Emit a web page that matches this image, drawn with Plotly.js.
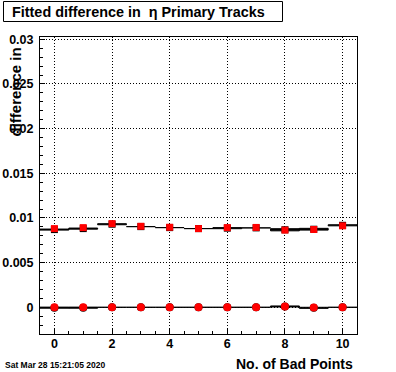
<!DOCTYPE html>
<html>
<head>
<meta charset="utf-8">
<script src="https://cdn.plot.ly/plotly-3.0.1.min.js"></script>
<style>
html,body{margin:0;padding:0;background:#fff;}
#plot{width:396px;height:372px;}
</style>
</head>
<body>
<div id="plot"></div>
<script>
// ---- data ----
const bins = [0, 1, 2, 3, 4, 5, 6, 7, 8, 9, 10];
// upper series (black histogram + its error, red overlay squares)
const upperBlack    = [0.00870, 0.00881, 0.00930, 0.00903, 0.00892, 0.00881, 0.00886, 0.00889, 0.00868, 0.00874, 0.00918];
const upperBlackErr = [0.00006, 0.00006, 0.00006, 0.0, 0.0, 0.0, 0.00006, 0.0, 0.00012, 0.00010, 0.00006];
const upperRed      = [0.00881, 0.00892, 0.00937, 0.00907, 0.00896, 0.00881, 0.00892, 0.00894, 0.00864, 0.00871, 0.00912];
// lower series (black histogram + its error, red overlay circles)
const lowerBlack    = [-0.00004, -0.00004, 0.0, 0.0, 0.0, 0.0, 0.0, 0.0, 0.00009, -0.00006, 0.0];
const lowerBlackErr = [0.00006, 0.00006, 0.0, 0.0, 0.0, 0.0, 0.0, 0.0, 0.00006, 0.00006, 0.0];
const lowerRed      = [0.0, 0.0, 0.0, 0.0, 0.0, 0.0, 0.0, 0.0, 0.00010, -0.00002, 0.0];

const titleText = 'Fitted difference in  \u03b7 Primary Tracks';
const yTitleText = 'difference in';
const xTitleText = 'No. of Bad Points';
const dateText = 'Sat Mar 28 15:21:05 2020';

// ---- geometry (pixels) ----
const W = 396, H = 372;
const mL = 40, mR = 39, mT = 37, mB = 38;
const pw = W - mL - mR, ph = H - mT - mB;
const px = x => (x - mL) / pw;
const py = y => (H - mB - y) / ph;

const FONT = 'Liberation Sans, Arial, Helvetica, sans-serif';

// build per-bin error boxes (closed polygons separated by nulls)
function boxes(vals, errs) {
  const xs = [], ys = [];
  vals.forEach((v, i) => {
    const e = errs[i];
    const a = bins[i] - 0.5, b = bins[i] + 0.5;
    xs.push(a, b, b, a, a, null);
    ys.push(v + e, v + e, v - e, v - e, v + e, null);
  });
  return {xs, ys};
}
const su = boxes(upperBlack, upperBlackErr);
const sl = boxes(lowerBlack, lowerBlackErr);

const traces = [
  {x: su.xs, y: su.ys, mode: 'lines', fill: 'toself', fillcolor: '#000', line: {color: '#000', width: 1}, connectgaps: false, hoverinfo: 'skip'},
  {x: sl.xs, y: sl.ys, mode: 'lines', fill: 'toself', fillcolor: '#000', line: {color: '#000', width: 1}, connectgaps: false, hoverinfo: 'skip'},
  {x: bins, y: upperBlack, mode: 'markers', marker: {symbol: 'square', size: 7, color: '#000'}},
  {x: bins, y: lowerBlack, mode: 'markers', marker: {symbol: 'circle', size: 8, color: '#000'}},
  {x: bins, y: upperRed, mode: 'markers', marker: {symbol: 'square', size: 7, color: '#ff0000'}},
  {x: bins, y: lowerRed, mode: 'markers', marker: {symbol: 'circle', size: 8, color: '#ff0000'}}
];

const tickFont = {family: FONT, size: 12.5, color: '#000', weight: 'bold'};

const layout = {
  width: W, height: H,
  margin: {l: mL, r: mR, t: mT, b: mB, pad: 0},
  paper_bgcolor: '#fff', plot_bgcolor: '#fff',
  showlegend: false,
  xaxis: {
    range: [-0.5, 10.5],
    tickmode: 'linear', tick0: 0, dtick: 2,
    ticks: 'inside', ticklen: 5, tickcolor: '#000', tickwidth: 1,
    minor: {dtick: 0.5, ticks: 'inside', ticklen: 3, tickcolor: '#000', showgrid: false},
    showgrid: true, gridcolor: '#000', griddash: '1px,2px', gridwidth: 1,
    zeroline: false,
    showline: true, linecolor: '#000', linewidth: 1, mirror: true,
    tickfont: tickFont, ticklabelstandoff: -2
  },
  yaxis: {
    range: [-0.00299, 0.03026],
    tickmode: 'linear', tick0: 0, dtick: 0.005,
    ticks: 'inside', ticklen: 5, tickcolor: '#000', tickwidth: 1,
    minor: {dtick: 0.001, ticks: 'inside', ticklen: 3, tickcolor: '#000', showgrid: false},
    showgrid: true, gridcolor: '#000', griddash: '1px,2px', gridwidth: 1,
    zeroline: false,
    showline: true, linecolor: '#000', linewidth: 1, mirror: true,
    tickfont: tickFont, ticklabelstandoff: 3
  },
  shapes: [
    {type: 'rect', xref: 'paper', yref: 'paper', x0: px(3.5), x1: px(282.5), y0: py(21.5), y1: py(1.5),
     line: {color: '#000', width: 1}, fillcolor: '#fff', layer: 'above'}
  ],
  annotations: [
    {text: titleText, xref: 'paper', yref: 'paper', x: px(138.5), y: py(12), xanchor: 'center', yanchor: 'middle',
     showarrow: false, font: {family: FONT, size: 14.4, color: '#000', weight: 'bold'}},
    {text: yTitleText, xref: 'paper', yref: 'paper', x: px(15), y: py(46), xanchor: 'center', yanchor: 'top',
     textangle: -90, showarrow: false, font: {family: FONT, size: 15, color: '#000', weight: 'bold'}},
    {text: xTitleText, xref: 'paper', yref: 'paper', x: px(355), y: py(364), xanchor: 'right', yanchor: 'middle',
     showarrow: false, font: {family: FONT, size: 14, color: '#000', weight: 'bold'}},
    {text: dateText, xref: 'paper', yref: 'paper', x: px(3), y: py(365), xanchor: 'left', yanchor: 'middle',
     showarrow: false, font: {family: FONT, size: 8.5, color: '#000', weight: 'bold'}}
  ]
};

Plotly.newPlot('plot', traces, layout, {staticPlot: true, displayModeBar: false});
</script>
</body>
</html>
